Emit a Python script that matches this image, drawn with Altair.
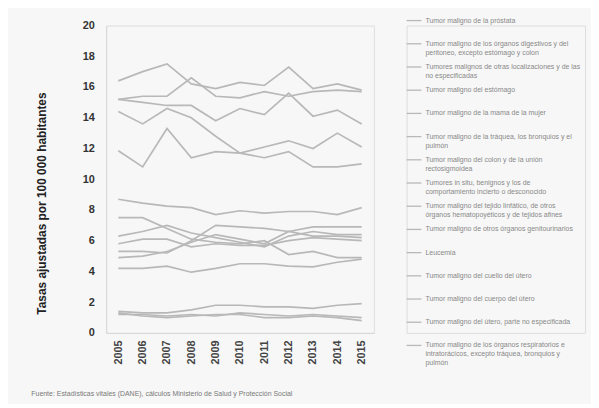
import altair as alt
import pandas as pd

years = list(range(2005, 2016))

causes = [
    "Tumor maligno de la próstata",
    "Tumor maligno de los órganos digestivos y del|peritoneo, excepto estómago y colon",
    "Tumores malignos de otras localizaciones y de las|no especificadas",
    "Tumor maligno del estómago",
    "Tumor maligno de la mama de la mujer",
    "Tumor maligno de la tráquea, los bronquios y el|pulmón",
    "Tumor maligno del colon y de la unión|rectosigmoidea",
    "Tumores in situ, benignos y los de|comportamiento incierto o desconocido",
    "Tumor maligno del tejido linfático, de otros|órganos hematopoyéticos y de tejidos afines",
    "Tumor maligno de otros órganos genitourinarios",
    "Leucemia",
    "Tumor maligno del cuello del útero",
    "Tumor maligno del cuerpo del útero",
    "Tumor maligno del útero, parte no especificada",
    "Tumor maligno de los órganos respiratorios e|intratorácicos, excepto tráquea, bronquios y|pulmón",
]

s_prostata = [16.4, 17.0, 17.5, 16.2, 15.9, 16.3, 16.1, 17.3, 15.9, 16.2, 15.8]
s_digestivos = [15.2, 15.4, 15.4, 16.6, 15.4, 15.3, 15.7, 15.4, 15.7, 15.8, 15.7]
s_otras = [15.2, 15.0, 14.8, 14.8, 13.8, 14.6, 14.2, 15.6, 14.1, 14.5, 13.6]
s_estomago = [14.4, 13.6, 14.6, 14.0, 12.8, 11.7, 12.1, 12.5, 12.0, 13.0, 12.1]
s_mama = [11.85, 10.8, 13.3, 11.4, 11.8, 11.7, 11.4, 11.8, 10.8, 10.8, 11.0]
s_traquea = [8.7, 8.45, 8.25, 8.15, 7.7, 7.95, 7.8, 7.9, 7.9, 7.7, 8.15]
s_colon = [5.3, 5.3, 5.2, 6.0, 7.0, 6.9, 6.8, 6.6, 6.9, 6.9, 6.9]
s_insitu = [6.3, 6.6, 7.0, 6.5, 6.2, 5.9, 5.6, 6.3, 6.6, 6.4, 6.4]
s_linfatico = [4.9, 5.0, 5.3, 5.9, 6.4, 6.1, 5.8, 6.6, 6.3, 6.3, 6.2]
s_genito = [5.8, 6.1, 6.1, 5.6, 5.8, 5.7, 5.7, 6.0, 6.2, 6.1, 6.0]
s_leucemia = [4.2, 4.2, 4.35, 3.95, 4.2, 4.5, 4.5, 4.35, 4.3, 4.6, 4.8]
s_cuello = [7.5, 7.5, 6.8, 6.1, 5.9, 5.8, 6.0, 5.1, 5.3, 4.9, 4.9]
s_cuerpo = [1.2, 1.2, 1.1, 1.2, 1.1, 1.3, 1.2, 1.1, 1.2, 1.1, 1.0]
s_uterone = [1.4, 1.3, 1.3, 1.5, 1.8, 1.8, 1.7, 1.7, 1.6, 1.8, 1.9]
s_respir = [1.3, 1.1, 1.0, 1.1, 1.2, 1.2, 1.0, 1.0, 1.1, 1.0, 0.8]

series = [s_prostata, s_digestivos, s_otras, s_estomago, s_mama, s_traquea,
          s_colon, s_insitu, s_linfatico, s_genito, s_leucemia, s_cuello,
          s_cuerpo, s_uterone, s_respir]

footer = "Fuente: Estadísticas vitales (DANE), cálculos Ministerio de Salud y Protección Social"

rows = []
for c, vals in zip(causes, series):
    for y, v in zip(years, vals):
        rows.append({"cause": c, "year": y, "value": v})
df = pd.DataFrame(rows)

df_leg = pd.DataFrame({"idx": list(range(len(causes))), "label": causes})

GRAY = "#b8b8b8"

lines = alt.Chart(df).mark_line(strokeWidth=1.7).encode(
    x=alt.X("year:O", axis=alt.Axis(title=None, labelAngle=270, labelFontSize=11,
                                    labelFontWeight="bold", labelColor="#444",
                                    ticks=False, labelPadding=7, domainColor="#d8d8d8",
                                    grid=False)),
    y=alt.Y("value:Q", scale=alt.Scale(domain=[0, 20], nice=False),
            axis=alt.Axis(values=list(range(0, 21, 2)),
                          title="Tasas ajustadas por 100 000 habitantes",
                          titleFontSize=12, titleFontWeight="bold", titleColor="#222",
                          titleX=-58, titleY=179,
                          labelFontSize=11, labelFontWeight="bold", labelColor="#333",
                          ticks=False, labelPadding=12, domainColor="#d8d8d8",
                          grid=False)),
    color=alt.Color("cause:N", sort=causes, scale=alt.Scale(range=[GRAY]), legend=None),
).properties(width=270, height=310)

yleg = alt.Y("idx:Q", scale=alt.Scale(domain=[13.46, 0.2137], nice=False, zero=False), axis=None)

leg_rules = alt.Chart(df_leg).mark_rule(color=GRAY, strokeWidth=1.3).encode(
    x=alt.value(0), x2=alt.value(15), y=yleg
)
leg_text = alt.Chart(df_leg).transform_calculate(
    lines="split(datum.label, '|')"
).mark_text(align="left", baseline="top", dy=-4, fontSize=7, color="#888",
            lineHeight=9).encode(
    x=alt.value(19), y=yleg, text="lines:N"
)
legend = (leg_rules + leg_text).properties(width=180, height=310)

chart = alt.hconcat(lines, legend, spacing=30).properties(
    padding={"left": 23, "top": 6, "right": 5, "bottom": 5},
    title=alt.TitleParams(footer, orient="bottom", anchor="start", fontSize=7,
                          color="#777", fontWeight="normal", offset=23, dx=-4),
).configure_view(stroke=None).configure(background="#f7f7f7", font="Arial")

chart.save("out.html", embed_options={"renderer": "svg", "actions": False})
